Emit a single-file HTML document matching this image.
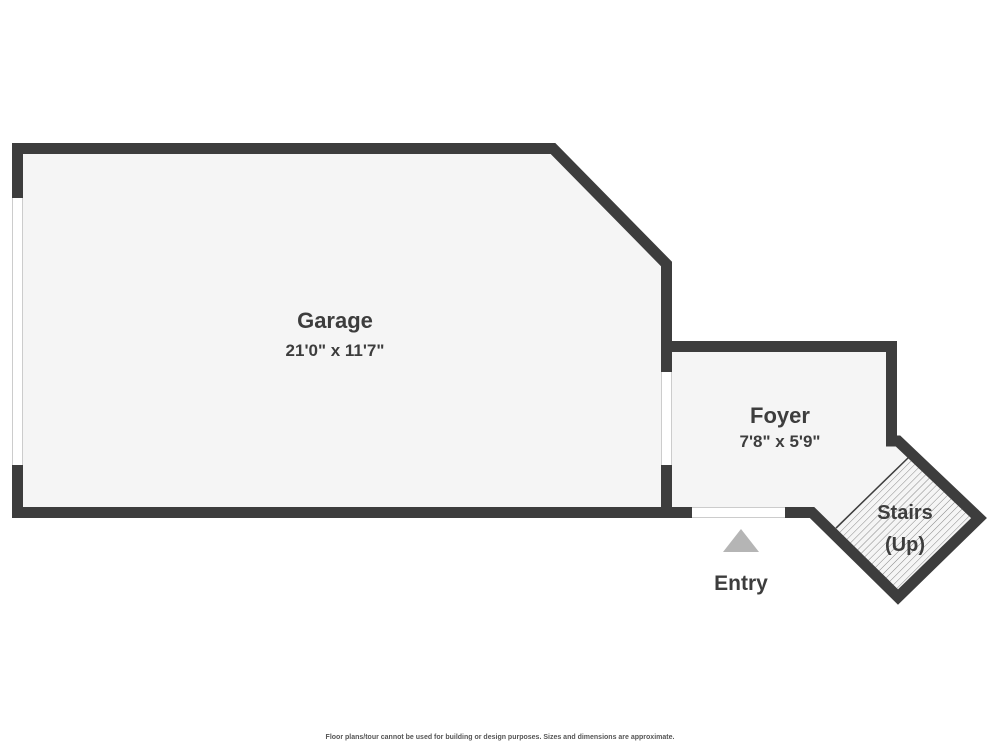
<!DOCTYPE html>
<html><head><meta charset="utf-8"><style>
html,body{margin:0;padding:0;background:#fff;}
svg{display:block;}
text{font-family:"Liberation Sans","DejaVu Sans",sans-serif;font-weight:bold;fill:#3d3d3d;text-anchor:middle;}
</style></head><body>
<svg width="1000" height="750" viewBox="0 0 1000 750" xmlns="http://www.w3.org/2000/svg">
<defs>
<pattern id="h" patternUnits="userSpaceOnUse" width="5" height="5" patternTransform="rotate(-45)">
<rect width="5" height="5" fill="#f5f5f5"/>
<line x1="0" y1="0" x2="5" y2="0" stroke="#888" stroke-width="1"/>
</pattern>
</defs>
<!-- floors -->
<polygon points="17,148 553,148 667,264 667,512 17,512" fill="#f5f5f5"/>
<polygon points="667,346 892,346 892,440 980,518 898,598 812,512 667,512" fill="#f5f5f5"/>
<polygon points="909,457 978,518 898,598 836,528" fill="url(#h)"/>
<line x1="909" y1="457" x2="836" y2="528" stroke="#3d3d3d" stroke-width="1.5"/>
<!-- openings -->
<line x1="17.5" y1="198" x2="17.5" y2="465" stroke="#ccc" stroke-width="11"/>
<line x1="17.5" y1="198" x2="17.5" y2="465" stroke="#fff" stroke-width="9"/>
<line x1="666.5" y1="372" x2="666.5" y2="465" stroke="#ccc" stroke-width="11"/>
<line x1="666.5" y1="372" x2="666.5" y2="465" stroke="#fff" stroke-width="9"/>
<line x1="692" y1="512.5" x2="785" y2="512.5" stroke="#ccc" stroke-width="11"/>
<line x1="692" y1="512.5" x2="785" y2="512.5" stroke="#fff" stroke-width="9"/>
<!-- walls -->
<g fill="none" stroke="#3d3d3d" stroke-width="11" stroke-linejoin="miter" stroke-miterlimit="10">
<polyline points="17.5,198 17.5,148.5 553,148.5 666.5,264 666.5,372"/>
<polyline points="17.5,465 17.5,512.5 692,512.5"/>
<line x1="666.5" y1="465" x2="666.5" y2="512"/>
<polyline points="666.5,352 666.5,346.5 891.5,346.5 891.5,441"/>
<polyline points="785,512.5 812,512.5 898,597 979,518 898,441 886,441"/>
</g>
<polygon points="723,552 759,552 741,529" fill="#b5b5b5"/>
<text x="335" y="328" font-size="22">Garage</text>
<text x="335" y="356" font-size="17">21'0" x 11'7"</text>
<text x="780" y="423" font-size="22">Foyer</text>
<text x="780" y="447" font-size="17">7'8" x 5'9"</text>
<text x="905" y="519" font-size="20">Stairs</text>
<text x="905" y="551" font-size="20">(Up)</text>
<text x="741" y="590" font-size="21">Entry</text>
<text x="500" y="739" font-size="7" style="fill:#555">Floor plans/tour cannot be used for building or design purposes. Sizes and dimensions are approximate.</text>
</svg>
</body></html>
